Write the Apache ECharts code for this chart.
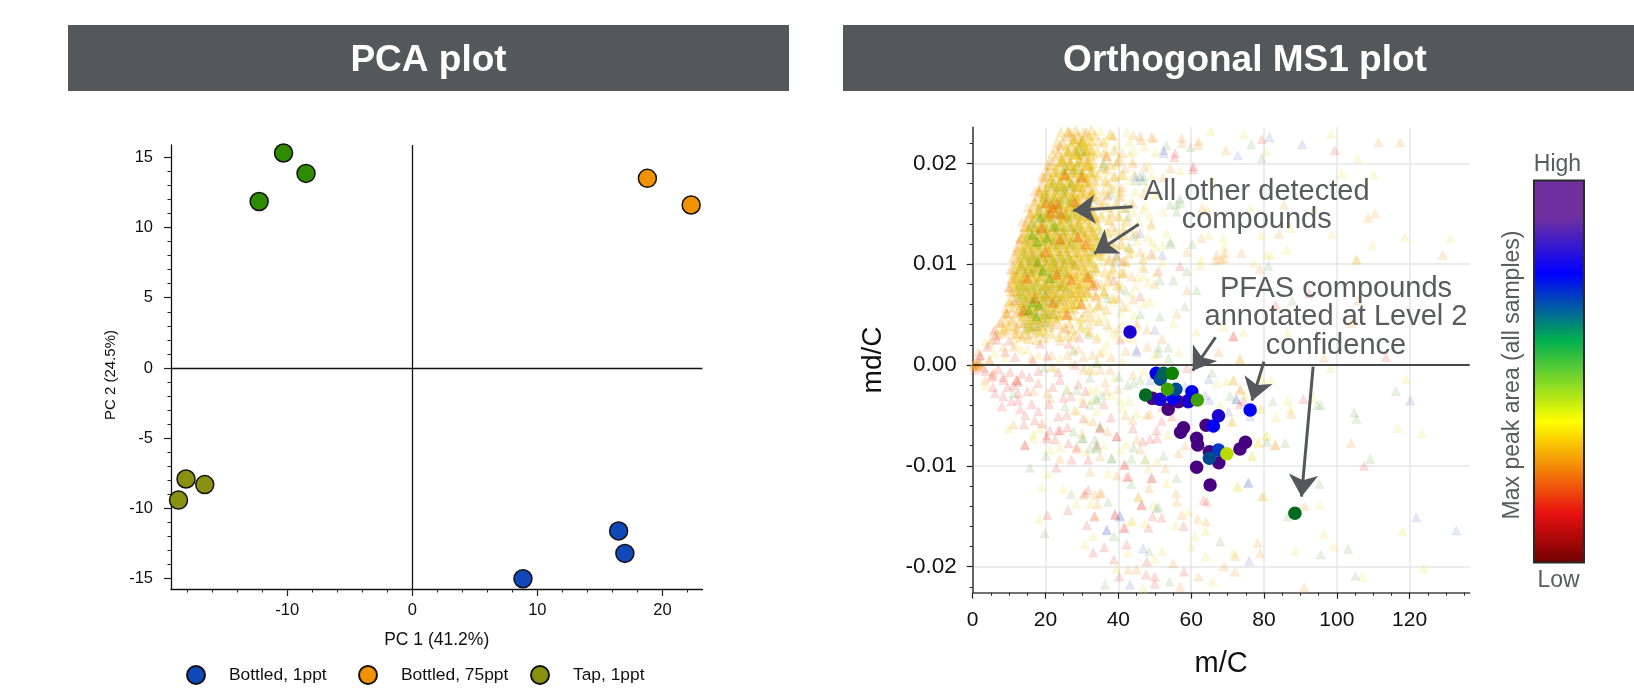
<!DOCTYPE html>
<html><head><meta charset="utf-8">
<script src="https://cdn.jsdelivr.net/npm/echarts@6/dist/echarts.min.js"></script>
<style>html,body{margin:0;padding:0;background:#fff;overflow:hidden}#c{width:1634px;height:693px}</style>
</head><body><div id="c"></div>
<script>
// ---------- PCA data ----------
const pcaBottled1 = [[8.85,-15],[16.5,-11.6],[17,-13.2]];
const pcaBottled75 = [[18.8,13.5],[22.3,11.6]];
const pcaTap1 = [[-18.1,-7.9],[-16.6,-8.3],[-18.7,-9.4]];
const pcaTap75 = [[-10.3,15.3],[-8.5,13.85],[-12.25,11.85]];
const pcaXTicks = [-10,0,10,20];
const pcaXMinor = [-18,-16,-14,-12,-8,-6,-4,-2,2,4,6,8,12,14,16,18,22];
const pcaYTicks = [-15,-10,-5,0,5,10,15];
const pcaYMinor = [-14,-13,-12,-11,-9,-8,-7,-6,-4,-3,-2,-1,1,2,3,4,6,7,8,9,11,12,13,14];

// ---------- MS1 axis ticks ----------
const msXTicks = [0,20,40,60,80,100,120];
const msXMinor = [5,10,15,25,30,35,45,50,55,65,70,75,85,90,95,105,110,115,125,130,135];
const msYTicks = [-0.02,-0.01,0,0.01,0.02];
const msYMinor = [-0.022,-0.018,-0.016,-0.014,-0.012,-0.008,-0.006,-0.004,-0.002,0.002,0.004,0.006,0.008,0.012,0.014,0.016,0.018,0.022];

// ---------- other compounds: flat m/C, md/C(x1000) pairs ----------
const otherRed = [83.2,5.96,92.5,7.11,71.6,2.88,113.5,0.76,90.8,-3.4,73.3,-3.9,107.5,-10,99.4,21.3,79.4,22.4,60.5,19.4,55.4,20.6,49,11,
2,0.9,6.6,2.5,8.9,1.3,11.6,0.8,0.6,-0.5,2.9,-0.3,5.5,-1,8.4,-1.5,5.5,-2.2,6.1,-2.8,8.4,-3.1,8,-4.1,12.1,-1.5,12.5,-1.7,11.2,-2,12.5,-2.8,12.5,-3.5,10.3,-0.7,15.6,-1.2,18,-1.8,15,-2.6,18,-0.6,24,-1.5,23.5,-0.7,16.2,-3.9,13,-4.4,14.4,-5,14.1,-5.9,18,-4.6,19,-5.8,21.2,-6.5,14.4,-8,20.3,-7.3,22.6,-7.4,23.5,-6.5,23.5,-5.1,25.8,-4.96,24.9,-3.3,28.1,0,26.3,2.1,30.4,-5.3,34.1,-7.9,26.3,-7.8,
14.3,-7.9,20.3,-7,24,-6.5,28.5,-8.3,34.9,-6.3,39.5,-7.1,50.5,-6.5,27.1,-9.4,31.7,-9.4,41.8,-9.9,23,-10.2,31.7,-12.4,42.3,-11.1,49.1,-11.2,46.4,-13.9,26.2,-14.4,20.5,-14.9,31.3,-15.9,33.4,-15.05,39.1,-14.9,41.8,-16.2,49.4,-15,36.1,-18.1,33.1,-18.6,42.3,-17.8,47.8,-19.5,38.8,-19.3,40.2,-21,47.6,-20.8,50,-21.7,
58.8,-0.33,74.4,-3.6,30.4,-3.8,35,-6.2,39.6,-7.1,51.9,-5.55,54.7,-5.1,50.6,-7.27,48.7,-7.37,46.7,-7.6,41.6,-9.92,49.2,-11.24,42.8,-11.08,30.9,-12.73,46.4,-13.9,63.4,-13.4,64.3,-13.56,57.9,-16,39.1,-14.8,48.3,-16.14,51.9,-15.15,41.4,-16.14,58,-20.5,50,-21,
36.8,20.7,55.6,21,60.6,19.7,56.9,9.8,51,9.3,34,8.1,46,6.8,71.6,2.8,40.5,2.5,6.1,3.5,2,1,18.5,2.1,12.1,-1.5,8.4,-1.2,5.2,-1.2,3.5,-0.6,1.6,0.3,4,1.8,10,2.4,7,-0.4,13.5,-0.9,16.5,0.4,20.5,0.9,22,-2.2,27,-3.1,29,-1.9,9.6,-2.2,10.6,-3.6,17,-5.5,21,-3.9,26,-6.2,31,-2.6,36,-3.9,38,-5.2,44,-6.3,47,-3,52,-4.2,
9.4,5.1,7.6,4.2,6.3,2.9,11.2,6.4,9.9,7.7,36.3,12.6,38.7,8.4,33.8,6.9,37.1,16.8,29.3,2.7,25.6,3.6,41.2,10.3];
const otherOrange = [78.9,9.49,105.8,6.39,103.9,4.14,73.4,0.57,96.5,0.73,87.4,-4.86,73.4,-2.41,83.2,-7.97,103.9,-7.74,91.2,-13.98,78.2,-17.62,78.9,-18.68,72.1,-18.95,91.1,-22.09,111.4,22.1,117.4,22.1,69.5,21.3,61.9,21.8,49,22.6,46.2,22.3,57.5,22,110.5,15,108.6,14.6,129.1,10.9,105.5,10.5,73.8,11.1,69.1,10.6,68.2,10.5,66.8,10.4,84.1,13,85.5,15.9,62.8,12.6,46.7,10.5,63,15.6,52.3,18.6,47.2,19.6,54.2,19.5,
1.1,-0.1,1.5,1.3,5.7,3.3,4.7,2.1,4.6,0.5,11.2,1.8,5.7,-0.7,3.4,-1.5,16.7,-2.6,21.7,1,11.2,-5.9,36.4,-1.7,35,1.2,21.2,-3.3,20.5,-2.8,28.6,-8.1,
23.9,-9.3,45,-7.4,48.5,-12.2,45.5,-13.1,30.4,-12.9,34.9,-12.7,34.2,-13.8,32.2,-0.5,30.4,-0.5,35,-0.5,37.7,-0.5,71.6,-1.55,73.5,-2.48,67.5,1.3,71.2,-5.6,36.8,-2.6,43.9,-5.45,47.8,-4.96,48.7,-4.86,35,-9.09,56.5,-8.76,58.3,-8,52.9,-10.25,39.6,-11,32.2,-10.6,35.4,-12.73,33.6,-12.9,55.8,-12.73,56.1,-13.56,57.4,-14.88,61.8,-15.28,64.1,-15.54,33.6,-14.95,79.4,-13.06,83,-7.93,55,-19.7,62,-21,69,-20,72,-20.5,57,-22,42.7,-20.3,45,-20.3,
46,22.7,49.6,22.5,62,22.2,57.4,22.5,44.1,22.8,38.6,22.7,41.8,19.5,39.1,18.7,40.5,16.7,41.4,13.4,46,11.2,58.8,11.2,67,10.9,69.3,11.1,41.4,9.1,43.7,8.8,40.5,7.6,31.3,7.4,41.4,5.8,56,5.1,58.8,7.4,47.8,3.5,45,4.1,30.4,0.8,5.2,2.5,0.6,-0.2,4.7,0.5,8.4,1.8,12.1,3.1,16.2,0.7,21.7,-0.2,
0.3,0.1,0.9,0.05,1.4,-0.05,1.9,0.15,0.5,0.2,7,3,9.6,3.4,11,4.6,9,5.6,10.5,7.2,11,8.6,12,10.4,13,12.4,13.5,14.2,15,15.6,17,17.2,19,18.8,21,20.2,24,21.8,27,23,36,21,37,18,38,15,39,12,38,9,35,6,32,4,28,3,24,2.4,
41,21,44,20,47,17,44,16,49,14,45,13,43,11,47,9.6,50,8,44,6.5,37,4,40,3.6,34,2.6,29,1.6,26,1,33,1,38,0.8,42,1.4,48,1.8,52,2.6,44,-1,40,-2.4,28,-4.5,33,-5.6,30,-6.8,37,-6.6,42,-5,46,-8.4,
34.6,22.2,32.4,20.7,36.9,19.4,35.7,16.1,38.3,13.7,34.9,11.3,33.2,9.2,36.1,7.3,30.7,5.2,26.6,4.1,33.8,14.6,39.6,20.1,40.9,17.6,37.6,10.6,40.1,6.6,9.1,4.4,8.2,3.1,10.3,5.7,11.6,3.8,22.9,21.4,20.4,19.2,18.4,17.1,16.2,14.9,14.3,13.1,12.7,11.4,11.1,9.4];
const otherYellow = [74.4,3.24,86.5,3.21,98.2,-0.33,119.1,-1.39,93.6,-3.3,86.5,-3.53,87.2,-4.36,83.2,-5.19,79.2,-4.39,81.9,-1.48,79.4,-1.42,71.6,-1.48,74.8,-2.97,71.2,-5.68,78.5,-7.7,80.8,-7.04,116.8,-6.31,123.4,-6.78,76.8,-9.02,72.8,-12.07,80.1,-13,95.4,-13.89,96.5,-16.76,99.1,-18,88.6,-18.45,71.6,-18.68,107.1,-21,123.8,-20.17,118.1,-16.53,74.5,22.9,80.6,21.2,98.4,22.9,105.8,20.5,101.4,19,110.1,18.9,65.4,23.2,50.2,21.1,118.8,12.7,131.2,12.6,109.8,11.9,105.2,10.4,86.2,11.4,81.8,10.9,80.8,10.9,77.3,10.1,69.1,11.7,62.8,10.4,93.9,15.5,87.4,13.6,98.6,13,79.2,12.9,76.2,15.6,65.9,18.3,64.9,12.9,57,19.3,
3.4,2.3,3.4,-2,34.5,0.3,30.9,-0.2,21.2,-8.4,9.8,-6.3,18.5,-6.3,16.7,-6.9,31.3,-5.5,28.6,-4.6,16.6,-7.3,47.3,-9.4,20.7,-10.8,18.9,-12.1,24.9,-12.3,28.5,-13.8,32.2,-13.8,49.6,-13.9,18.3,-15.3,43.6,-15.5,47.3,-15.7,33.1,-17,30.8,-17.8,42.7,-18.6,50,-19.2,39.5,-20.2,46.8,-22.2,
56.5,1.3,73.5,0.5,46.9,-0.66,69.8,-1.65,67,-1.8,68,-3.97,79,-4.3,32.7,-3.47,32.2,-2.48,40.5,-3.47,41,-4.3,53.5,-6.94,42.1,-7.9,40.5,-8.43,50.6,-9.59,48.3,-10.25,53.3,-11.74,37.1,-10.75,45.5,-13.06,59.3,-14.55,55.6,-15.87,43.7,-15.54,72.7,-12.07,76.7,-9,78.5,-7.77,80.6,-7,52,-18.5,60,-18,64,-19,66,-21.5,61,-17,64,-16.5,
46.9,15.4,64.3,15.4,43.2,21,49.2,12.2,52.2,11.9,62.4,9.9,68.8,12.6,49.6,10.8,46.9,8.8,48.7,6.3,68.8,3.8,61.5,3.3,55.1,4.1,39.5,2.8,36.8,2.1,27.6,1.5,22.6,-0.3,8.4,4.1,13.4,1.5,
8.2,3.3,11.4,2.6,24.3,3.2,27.6,2.7,31.2,3.4,34.4,2.9,38.6,3.2,42.1,2.7,7.3,4.2,10.6,3.8,26.4,4.3,30.1,3.9,33.3,4.4,37.5,3.7,41.3,4.2,45.2,3.8,9.3,5.2,30.4,4.8,33.7,5.3,36.2,4.7,40.6,5.2,44.4,4.9,9.8,6.2,31.2,6.3,34.3,5.8,38.7,6.2,42.4,5.7,47.1,6.1,10.2,7.3,32.3,6.8,35.6,7.2,39.3,6.7,43.6,7.1,33.4,8.2,36.3,7.8,40.4,8.1,44.8,7.8,48.2,8.2,10.7,9.1,34.1,9.3,37.2,8.8,41.6,9.2,45.3,8.7,50.3,9.1,35.4,10.2,38.3,9.7,42.2,10.1,46.4,9.8,52.1,10.2,36.2,11.3,39.4,10.8,43.7,11.1,47.3,10.8,38.1,12.2,41.3,11.8,45.2,12.3,50.2,11.7,37.2,13.2,40.4,12.8,44.3,13.3,48.1,12.7,53.2,13.1,37.4,14.3,41.1,13.8,45.6,14.2,49.2,13.8,37.7,15.2,40.3,14.7,44.1,15.1,48.6,14.8,52.3,15.2,36.3,16.3,39.6,15.8,43.3,16.2,47.4,15.8,36.8,17.3,40.2,16.8,44.7,17.2,50.1,16.9,36.2,18.2,39.3,17.8,43.1,18.3,47.6,17.7,36.4,19.2,40.7,18.8,44.3,19.1,49.3,18.8,36.1,20.2,39.2,19.8,43.8,20.2,48.4,19.8,36.6,21.3,40.4,20.7,44.2,21.2,36.7,22.3,39.8,21.8,43.1,22.1,47.2,21.7,35.2,23.2,38.4,22.8,42.3,23.1,
6,1.2,9,0.8,12,2,15,1.5,18,1,24,0.6,27,0.2,33,-0.6,36,1.4,41,0.4,44,2.6,50,1,26,-2.4,30,-3.4,34,-2.4,39,-1.2,43,-3.6,38,-3,45,-4.8,50,-2.6,34,-4.6,36,-8,31,-8.6,24,-8.2,
0.2,-0.1,0.7,0.2,1.2,0.1,1.7,-0.1,2.3,0.2,24.6,20.4,21.7,18.3,19.1,16.7,17.2,15.2,15.3,13.6,13.8,11.8,12.4,10.2,11.2,7.9,10.2,6.4,8.8,4.8,7.2,3.7,32.6,21.8,33.9,18.1,35.4,14.9,36.1,10.9,33.2,7.2,29.1,4.3];
const otherGreen = [81.2,9.82,87.8,6.35,116.2,-2.58,104.8,-4.73,105.4,-5.35,94.7,-3.97,95.6,-3.97,82.4,-3.63,80.8,-7.67,85.8,-7.74,109.2,-9.32,95.2,-11.8,86.5,-15.04,103.1,-18.25,95.6,-18.81,105.1,-20.9,76.5,21.9,79.4,20.5,59.8,21.6,53.2,21.8,60.3,12,54.4,12,56,15.2,57,16.1,44.8,18.3,46.7,18.3,
11.2,-2.8,19.6,-0.3,25.8,-2.5,28.6,-2.5,32.2,-1.3,27.7,1.4,31.8,3,25.4,-4.1,34.1,-3.5,32.2,-3.97,35,-6.1,27.7,-6.6,30,-7.3,33.6,-7.4,34,-8.3,15.7,-10.2,20.1,-9,38.1,-9.3,43.6,-9.3,27,-12.8,43.6,-11.8,37.2,-13.6,50.5,-14.2,19.8,-16.7,38.8,-17,48.4,-18.5,36.3,-21.8,
51,1.2,53.8,0.66,65.7,-0.76,40.2,-1.2,42.6,-2,44.2,-1.8,46,-1.5,70.7,-3.07,35.5,-3,33.9,-3.3,44.2,-8.2,38.2,-9.26,34.1,-8.1,30.4,-7.27,32.2,-8.27,47.4,-9.36,52.4,-9,56,-11.24,51,-14.1,54,-21.5,68,-17.5,
35.9,19.7,46.9,18.7,54.2,15.9,56,15.9,56.9,16.5,42.7,14.7,42.7,11.7,54.2,12.2,58.8,9.3,51.4,8.4,55.1,8.4,58.3,5.8,61.5,7.4,51.4,4.8,51,1.7,53.7,1.7,34,0.2,
38,17,42,15.6,44,12.8,39,10.2,42,7.4,46,5,37,6.6,32,9,35,13,33,16.4,36,20,30,21,27,18,24,16,18,13,16,10.4,14,7,20,5,26,7,33,11.2];
const otherBlue = [120.2,-3.53,72.3,-3.4,76.2,-5.12,75.7,-11.74,75.9,-19.44,121.8,-15.11,132.8,-16.43,81.5,22.6,90.5,21.9,72.8,20.8,52.5,21,52.1,10.9,
40.4,-15.05,36.8,-16.4,46.8,-18.2,43.2,-21.8,45,1.3,48.7,-1.55,58.3,-2.15,64.8,-1.42,72.5,-3.4,65,-3.47,63.8,-3,70.3,-4.63,40.5,-14.95,36.8,-16.37,75.7,-11.67,
52.4,21.3,46,18.7,44.6,18.7,46,13.1,39.5,10.9,50,3.5,45,1.5,24,15,17,11,20,7,16,14,28,10];

// ---------- dense cloud, estimated in overlapping layers across the blob ----------
const midGold = [33.6,22.8,35.9,22.1,37.8,22.9,34.2,21.2,36.8,20.8,38.9,21.3,33.1,20.1,35.4,19.6,37.7,19.9,40.1,20.3,34.4,18.8,36.6,18.3,38.8,18.7,41.2,18.9,33.7,17.4,35.9,17.1,38.2,17.5,40.6,17.2,34.8,16.1,37.1,15.7,39.4,16,41.7,15.6,35.3,14.7,37.6,14.4,39.9,14.8,42.3,14.3,34.6,13.4,36.9,13.1,39.2,13.3,41.5,12.9,36.2,12.1,38.5,11.7,40.8,12,43.1,11.6,35.1,10.8,37.4,10.4,39.7,10.7,41.9,10.3,33.9,9.6,36.3,9.2,38.6,9.5,40.8,9.1,32.8,8.4,35.1,8,37.3,8.3,39.7,7.9,31.6,7.2,33.9,6.8,36.2,7.1,38.4,6.6,29.8,6,32.1,5.7,34.4,5.9,36.7,5.5,27.6,4.9,29.9,4.6,32.2,4.8,34.6,4.4,25.2,3.8,27.4,3.5,29.7,3.7,32.1,3.3,21.6,3.1,23.8,2.8,26.1,2.9,
11.3,5.6,10.2,6.3,9.1,5.1,10.8,4.4,12.2,3.6,9.8,3.9,11.7,3.1,13.4,2.8,15.3,2.6,17.6,2.5,19.6,2.7,8.6,3.6,10.3,7.7,11.1,8.2,
24.2,23.1,26.2,23.2,28.3,23.3,30.4,23.1,32.6,23.3,23.2,22.1,21.9,21,20.6,19.8,19.4,18.6,18.1,17.4,16.9,16.2,15.8,15.1,14.6,13.8,13.4,12.6,12.2,11.3];
const denseGold = [14.2,4.2,16.3,3.9,18.7,4.6,21.1,3.8,23.6,4.9,13.1,5.1,15.6,5.3,17.9,5.8,20.7,5.1,23.1,5.7,25.7,5.2,27.9,5.6,12.8,6.2,15.2,6.7,17.6,6.2,19.9,6.9,22.5,6.3,24.9,6.8,27.3,6.1,29.1,6.8,12.1,7.3,14.6,7.4,16.9,7.1,19.6,7.9,21.9,7.2,24.3,7.9,26.9,7.2,29.4,7.6,31.1,7.2,12.1,8.7,14.3,8.6,16.7,8.3,18.9,8.8,21.4,8.6,23.9,8.2,26.1,8.9,28.6,8.2,31.1,8.7,13.6,9.9,15.9,9.3,18.3,9.8,20.8,9.3,23.2,9.8,25.6,9.2,28.2,9.9,30.7,9.3,33.2,9.7,14.4,10.7,16.8,10.3,19.2,10.7,21.7,10.3,24.2,10.6,26.6,10.2,29.1,10.7,31.6,10.3,15.4,11.6,17.8,11.3,20.3,11.7,22.7,11.3,25.3,11.6,27.6,11.2,30.2,11.7,32.7,11.3,16.3,12.7,18.7,12.3,21.2,12.8,23.7,12.3,26.2,12.7,28.4,12.3,31.1,12.7,33.6,12.3,17.2,13.7,19.7,13.3,22.1,13.7,24.6,13.3,27.2,13.7,29.7,13.3,32.2,13.7,17.7,14.9,20.2,14.6,22.6,14.9,25.1,14.5,27.4,14.9,29.9,14.5,32.4,14.8,18.8,16,21.2,15.7,23.7,15.9,26.2,15.6,28.6,16,31.1,15.6,19.8,17,22.3,16.7,24.8,17,27.2,16.6,29.7,17,32.2,16.7,21.1,18.1,23.6,17.7,26.1,18.1,28.6,17.7,31.1,18.1,22.4,19.1,24.9,18.8,27.4,19.1,29.9,18.8,32.3,19.2,24.2,20.2,26.7,19.8,29.2,20.2,31.7,19.8,26.2,21.2,28.7,20.9,31.2,21.3,27.9,22.4,30.3,22.2];
const denseOrange = [14.6,3.2,17.9,3.4,13.2,4.3,15.7,4.6,18.3,4.1,20.8,4.5,23.1,4.2,12.8,5.4,15.1,5.7,17.4,5.2,20.2,5.6,22.7,5.3,25.3,5.8,12.3,6.6,14.7,6.3,17.1,6.8,19.6,6.4,22.1,6.9,24.4,6.5,27.2,6.7,11.8,7.5,13.9,7.9,16.6,7.6,19.2,7.3,21.4,7.8,23.9,7.4,26.3,7.7,28.8,7.4,11.2,8.7,13.6,8.4,16.1,8.9,18.4,8.5,20.9,8.3,23.3,8.8,25.6,8.4,28.1,8.6,30.4,8.2,11,9.7,13.2,9.4,15.8,9.8,17.9,9.5,20.4,9.9,22.8,9.4,25.1,9.7,27.7,9.3,30.2,9.6,11.6,10.8,14.1,10.4,16.3,10.9,18.7,10.5,21.3,10.8,23.6,10.3,26.2,10.7,28.4,10.4,31.3,10.8,12.7,11.9,14.8,11.5,17.2,11.8,19.9,11.4,22.2,11.9,24.7,11.5,27.1,11.8,29.6,11.4,32.4,11.9,13.6,12.8,15.9,12.4,18.1,12.9,20.6,12.5,23.1,12.7,25.4,12.4,28.2,12.8,30.7,12.5,33.4,12.9,14.6,13.9,16.8,13.5,19.4,13.8,21.8,13.4,24.2,13.9,26.7,13.5,29.3,13.8,31.8,13.4,15.7,14.8,18.2,14.4,20.7,14.9,23.2,14.5,25.6,14.8,28.3,14.4,30.6,14.9,33.1,14.6,17.1,15.9,19.3,15.5,21.9,15.8,24.4,15.4,26.9,15.9,29.4,15.5,31.9,15.8,18.2,16.9,20.6,16.4,23.1,16.8,25.4,16.5,27.8,16.9,30.4,16.5,32.7,16.9,19.1,17.8,21.7,17.5,24.2,17.9,26.6,17.4,29.2,17.8,31.6,17.5,20.6,18.9,22.9,18.5,25.3,18.8,27.9,18.4,30.3,18.9,32.8,18.5,21.8,20,24.1,19.6,26.7,19.9,29.1,19.5,31.4,19.9,23.6,20.9,25.9,20.6,28.3,21,30.8,20.6,24.7,22,27.1,21.6,29.6,21.9,31.9,21.5,26.3,22.9,28.9,22.6,31.2,22.9];
const denseYellow = [15.8,3.7,19.1,3.6,14.3,5,16.8,4.7,19.7,4.9,22.2,4.8,24.9,5.1,13.7,6.1,16.2,5.9,18.8,6.2,21.3,5.9,23.8,6.2,26.4,5.9,28.3,6.2,13.1,7.2,15.4,7.1,17.9,7.3,20.6,7,22.9,7.3,25.4,7,27.8,7.3,29.9,7,12.4,8.2,14.9,8.1,17.3,8.2,19.8,8,22.4,8.3,24.8,8,27.2,8.2,29.6,8,32,8.3,12.3,9.2,14.4,9,16.9,9.2,19.1,9,21.8,9.2,24.1,9,26.8,9.2,29.1,9,31.7,9.2,12.9,10.2,15.2,10,17.6,10.2,20,10,22.3,10.2,24.9,10,27.3,10.2,29.8,10,32.6,10.3,13.7,11.2,16.1,11,18.4,11.2,21,11,23.4,11.2,25.8,11,28.6,11.2,30.9,11,33.8,11.2,14.9,12.2,17,12,19.4,12.2,21.9,12,24.3,12.2,26.8,12,29.2,12.2,31.7,12,34.3,12.2,15.3,13.2,17.9,13,20.4,13.2,22.8,13,25.3,13.2,27.9,13,30.4,13.2,32.9,13.1,16.4,14.2,19,14,21.3,14.3,23.8,14,26.2,14.3,28.7,14,31.2,14.2,33.9,14,18.1,15.2,20.4,15,22.9,15.3,25.2,15,27.7,15.3,30.3,15,32.7,15.2,19.4,16.3,21.7,16,24.3,16.2,26.6,16,29.1,16.3,31.6,16,20.2,17.3,22.7,17,25.2,17.3,27.7,17,30.2,17.3,32.8,17.1,21.4,18.2,23.8,18,26.4,18.2,28.9,18,31.3,18.3,22.8,19.3,25.1,19,27.7,19.3,30.1,19,32.9,19.2,24.4,20.3,26.9,20,29.4,20.3,31.9,20.1,25.7,21.3,28.1,21.1,30.3,21.4,32.7,21.1,27.6,22.3,30,22.1,32.2,22.4];
const denseGreen = [15.2,3.9,17.1,4,19.4,4.4,14.1,5.6,16.6,5.3,18.9,5.5,21.7,5.2,13.4,6.9,15.8,6.5,18.2,6.9,20.7,6.6,23.2,6.7,13.2,8,15.6,7.8,17.8,8,20.2,7.7,22.7,8.1,25.1,7.9,13.3,9.7,15.3,9.4,17.4,9.7,19.6,9.4,22.1,9.7,24.6,9.4,14.1,11.1,16.4,10.6,18.9,10.9,21.4,10.6,23.9,10.9,26.3,10.6,15.2,12.6,17.6,12.2,20.1,12.6,22.6,12.2,25.1,12.6,27.4,12.2,16.3,13.9,18.7,13.6,21.2,13.9,23.6,13.6,26.1,13.9,28.6,13.6,18.4,15.3,20.9,14.9,23.4,15.3,25.9,14.9,28.2,15.2,20.1,16.7,22.6,16.3,25.1,16.7,27.6,16.3,22.2,17.9,24.7,17.6,27.2,17.9,25.4,19.5,28.6,19.6,29.4,21.4];
const denseHot = [22,15.6,20.2,16.1,24.3,15,23.1,16,21.4,15.1,29.8,6.1,27,8.5,26,5,23,9,31,12,20,11.2,17,6.6,24,12.5,28,16.2,33,7.9,15,8.6,22,6.2,30,18.6,19,13.6,14,5.4,31.7,8.7,28.9,12.7,25.4,18.9];
const denseLime = [17.8,12.2,18.6,14.6,16.4,12.9,17.9,10.2,15.4,5.4,16.6,6.2,17.4,4.8,18.2,5.9,20.4,12.6,19.2,9.4,22.6,13.8,21.2,8.6];

// ---------- PFAS compounds ----------
const pfasPurple = [[49.4,-3.31],[53.7,-4.4],[56.5,-3.64],[59.1,-3.54],[57.9,-6.22],[57.1,-6.68],[61.5,-7.28],[61.8,-7.94],[64.1,-5.98],[65,-8.6],[67.6,-9.69],[61.5,-10.15],[65.2,-11.9],[73.4,-8.33],[74.9,-7.67]];
const pfasViolet = [[43.2,3.27],[51.5,-3.41],[59.2,-3.64],[67.5,-5.03]];
const pfasBlue = [[50.4,-0.83],[55.1,-3.31],[60.2,-2.65],[66.1,-6.05],[76.2,-4.46]];
const pfasMidBlue = [[67.5,-8.43]];
const pfasTeal = [[51.5,-1.42],[55.8,-2.41],[65,-9.26]];
const pfasSeaGreen = [[52.4,-0.83]];
const pfasGreen = [[54.8,-0.83]];
const pfasDarkGreen = [[47.5,-2.98],[88.5,-14.71]];
const pfasLime = [[53.5,-2.41],[61.7,-3.47]];
const pfasYellow = [[69.8,-8.8]];

// ---------- annotation arrows: [from m/C, from md/C, to m/C, to md/C] ----------
const arrowSegments = [
 [43.9,0.0157,27.6,0.01533],[45.6,0.01397,33.4,0.01107],[66.7,0.00275,60.4,-0.00057],
 [80.0,0.00033,76.7,-0.00354],[93.5,-0.00017,90.3,-0.01306]];

const FONT = '"Liberation Sans", Arial, sans-serif';
const GREY = '#595b5c';
const toPairs = f => { const o=[]; for(let i=0;i<f.length;i+=2) o.push([f[i],f[i+1]/1000]); return o; };
const milli = a => a.map(p=>[p[0],p[1]/1000]);

function pcaSeries(name,data,color){
  return {name,type:'scatter',xAxisIndex:0,yAxisIndex:0,data,symbol:'circle',symbolSize:18,clip:false,z:3,
    itemStyle:{color,borderColor:'#111',borderWidth:1.5,opacity:1}};
}
function tri(name,flat,color,size,opacity,z){
  return {name,type:'scatter',xAxisIndex:2,yAxisIndex:2,data:toPairs(flat),symbol:'triangle',symbolSize:size,silent:true,z:z||2,
    large:false,animation:false,itemStyle:{color,opacity,borderColor:color,borderWidth:0.6}};
}
function pfas(name,data,color){
  return {name,type:'scatter',xAxisIndex:2,yAxisIndex:2,data:milli(data),symbol:'circle',symbolSize:13.5,z:5,animation:false,
    itemStyle:{color,opacity:1}};
}
function mkLegend(name,left,top,textPad){
  return {data:[name],left,top,orient:'horizontal',selectedMode:false,icon:'circle',itemWidth:18,itemHeight:18,
    textStyle:{fontFamily:FONT,fontSize:17.4,color:'#111',padding:textPad||[0,0,0,19]}};
}
function axis(common,gridIndex,min,max,major,minor,majorLen,minorLen,extra){
  return [
    Object.assign({type:'value',gridIndex,min,max,
      axisTick:{show:true,length:majorLen,customValues:major,lineStyle:{color:'#222',width:1.2}},
      splitLine:{show:false}},common,extra),
    {type:'value',gridIndex,min,max,position:common.position,axisLine:{show:false,onZero:false},axisLabel:{show:false},splitLine:{show:false},
      axisTick:{show:true,length:minorLen,customValues:minor,lineStyle:{color:'#222',width:1}}}
  ];
}
const pcaAx = {axisLine:{show:true,onZero:false,lineStyle:{color:'#111',width:1.3}}};
const msAx = {axisLine:{show:true,onZero:false,lineStyle:{color:'#444',width:1.6}}};
const msSplit = {show:true,lineStyle:{color:'#e6e6e6',width:1.5}};

const xAxes = [
  ...axis(Object.assign({position:'bottom'},pcaAx),0,-19.3,23.2,pcaXTicks,pcaXMinor,7,3.5,{
    name:'PC 1 (41.2%)',nameLocation:'middle',nameGap:42,nameTextStyle:{fontFamily:FONT,fontSize:17.5,color:'#111'},
    axisLabel:{customValues:pcaXTicks,margin:13,fontFamily:FONT,fontSize:16.5,color:'#111'}}),
  ...axis(Object.assign({position:'bottom'},msAx),1,0,136.5,msXTicks,msXMinor,6,3,{
    name:'m/C',nameLocation:'middle',nameGap:57,nameTextStyle:{fontFamily:FONT,fontSize:29,color:'#111'},
    splitLine:msSplit,
    axisLabel:{customValues:msXTicks,margin:17,fontFamily:FONT,fontSize:21,color:'#111'}})
];
const yAxes = [
  ...axis(Object.assign({position:'left'},pcaAx),0,-15.73,15.87,pcaYTicks,pcaYMinor,7,3.5,{
    name:'PC 2 (24.5%)',nameLocation:'middle',nameGap:53,nameTextStyle:{fontFamily:FONT,fontSize:15,color:'#111',padding:[0,16,0,0]},
    axisLabel:{customValues:pcaYTicks,margin:18,fontFamily:FONT,fontSize:16.5,color:'#111'}}),
  ...axis(Object.assign({position:'left'},msAx),1,-0.02259,0.02358,msYTicks,msYMinor,6,3,{
    name:'md/C',nameLocation:'middle',nameGap:85,nameTextStyle:{fontFamily:FONT,fontSize:28,color:'#111'},
    splitLine:msSplit,
    axisLabel:{customValues:msYTicks,margin:16,fontFamily:FONT,fontSize:22.5,color:'#111',formatter:v=>v.toFixed(2)}})
];

const lineTxt = (text,x,y,size,extra)=>({type:'text',x,y,silent:true,z:20,
  style:Object.assign({text,fill:GREY,font:size+'px '+FONT,align:'center',verticalAlign:'middle'},extra||{})});

const option = {
  animation:false,
  backgroundColor:'#fff',
  title:[
    {text:'PCA plot',left:423.5,top:37,textAlign:'center',z:10,textStyle:{color:'#fff',fontFamily:FONT,fontWeight:'bold',fontSize:37}},
    {text:'Orthogonal MS1 plot',left:1240,top:37,textAlign:'center',z:10,textStyle:{color:'#fff',fontFamily:FONT,fontWeight:'bold',fontSize:37}}
  ],
  grid:[
    {left:171,top:145,width:531.4,height:444},
    {left:972.7,top:127.3,width:497,height:465.4}
  ],
  xAxis:xAxes,
  yAxis:yAxes,
  legend:[
    mkLegend('Bottled, 1ppt',181,660),
    mkLegend('Bottled, 75ppt',353,660),
    mkLegend('Tap, 1ppt',525,660),
    mkLegend('Tap, 75ppt',181,690,[12,0,0,19])
  ],
  series:[
    pcaSeries('Bottled, 1ppt',pcaBottled1,'#1048b8'),
    pcaSeries('Bottled, 75ppt',pcaBottled75,'#f39200'),
    pcaSeries('Tap, 1ppt',pcaTap1,'#8a9010'),
    pcaSeries('Tap, 75ppt',pcaTap75,'#2e8b00'),
    {type:'scatter',xAxisIndex:0,yAxisIndex:0,data:[],silent:true,z:2,
     markLine:{silent:true,symbol:'none',label:{show:false},animation:false,lineStyle:{color:'#111',width:1.3,type:'solid'},data:[{xAxis:0},{yAxis:0}]}},

    tri('other yellow',otherYellow,'#f2e24a',9,0.2),
    tri('other orange',otherOrange,'#f7a030',9,0.2),
    tri('other red',otherRed,'#ee4a3c',9,0.18),
    tri('other green',otherGreen,'#6cae50',9,0.17),
    tri('other blue',otherBlue,'#5a6cc0',9,0.16),
    tri('mid gold',midGold,'#eeb000',10,0.24),
    tri('dense orange',denseOrange,'#f09000',13,0.24),
    tri('dense yellow',denseYellow,'#e8cc00',13,0.34),
    tri('dense green',denseGreen,'#80a800',13,0.2),
    tri('dense gold',denseGold,'#dcaa00',10,0.26),
    tri('dense hot',denseHot,'#f06000',10,0.35),
    tri('dense lime',denseLime,'#60b000',9,0.4),
    {type:'scatter',xAxisIndex:2,yAxisIndex:2,data:[],silent:true,z:4,
     markLine:{silent:true,symbol:'none',label:{show:false},animation:false,lineStyle:{color:'#111',width:1.5,type:'solid'},data:[{yAxis:0}]}},

    pfas('PFAS purple',pfasPurple,'#47007f'),
    pfas('PFAS violet',pfasViolet,'#1a00d0'),
    pfas('PFAS blue',pfasBlue,'#0000f5'),
    pfas('PFAS mid blue',pfasMidBlue,'#0038c8'),
    pfas('PFAS teal',pfasTeal,'#004a90'),
    pfas('PFAS sea green',pfasSeaGreen,'#00605a'),
    pfas('PFAS green',pfasGreen,'#108000'),
    pfas('PFAS dark green',pfasDarkGreen,'#006a20'),
    pfas('PFAS lime',pfasLime,'#40a000'),
    pfas('PFAS yellow',pfasYellow,'#b8dc00'),
    {type:'scatter',xAxisIndex:2,yAxisIndex:2,data:[],silent:true,z:6,
     markLine:{silent:true,symbol:['none','arrow'],symbolSize:22,label:{show:false},animation:false,
       lineStyle:{color:'#54585a',width:3,type:'solid',opacity:1},
       data:arrowSegments.map(a=>[{coord:[a[0],a[1]]},{coord:[a[2],a[3]]}])}}
  ],
  graphic:[
    {type:'rect',silent:true,z:0,shape:{x:68,y:25,width:721,height:66},style:{fill:'#54585a'}},
    {type:'rect',silent:true,z:0,shape:{x:843,y:25,width:791,height:66},style:{fill:'#54585a'}},
    {type:'rect',silent:true,z:5,shape:{x:1534,y:180.5,width:50,height:382},
      style:{stroke:'#2a2a2a',lineWidth:2,fill:{type:'linear',x:0,y:0,x2:0,y2:1,colorStops:[
        {offset:0,color:'#7030a0'},{offset:0.1,color:'#7030a0'},{offset:0.244,color:'#0000ff'},
        {offset:0.418,color:'#00b050'},{offset:0.63,color:'#ffff00'},{offset:0.87,color:'#e81010'},{offset:1,color:'#700000'}]}}},
    lineTxt('High',1557.5,165,23),
    lineTxt('Low',1558.5,581,23),
    Object.assign(lineTxt('Max peak area (all samples)',1513,375,23),{rotation:Math.PI/2}),
    lineTxt('All other detected\ncompounds',1256.7,206,29,{lineHeight:28.5}),
    lineTxt('PFAS compounds\nannotated at Level 2\nconfidence',1336,317,29,{lineHeight:28.5})
  ]
};
const chart = echarts.init(document.getElementById('c'),null,{renderer:'canvas',width:1634,height:693});
chart.setOption(option);
</script></body></html>
